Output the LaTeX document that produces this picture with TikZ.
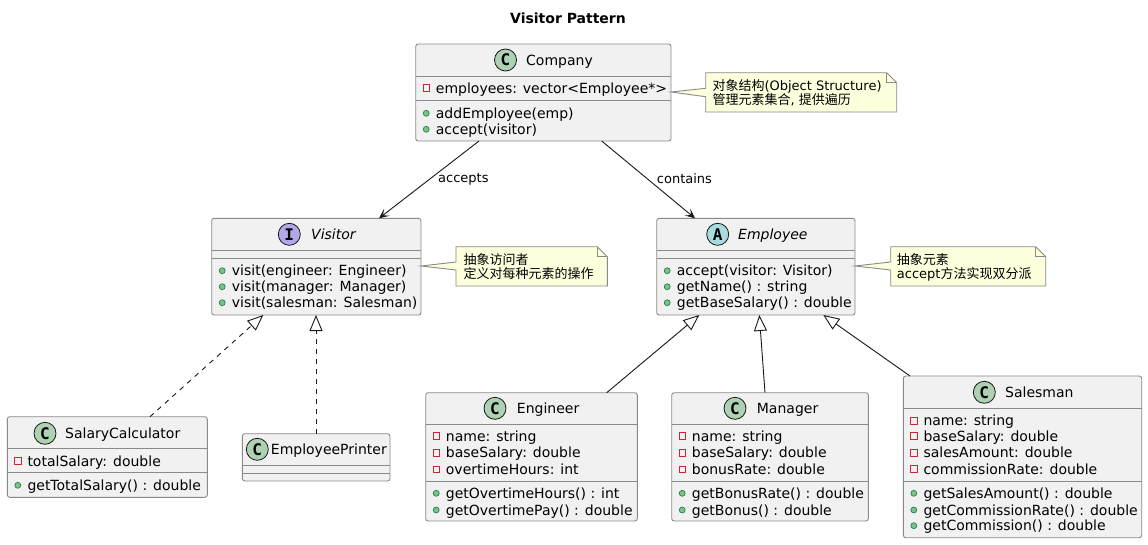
\documentclass[tikz,border=0pt]{standalone}
\usepackage{fontspec}
\setmainfont{DejaVu Sans}
\newfontfamily\cjk{Noto Sans CJK SC}
\newfontfamily\spotfont{DejaVu Sans Mono}
\usetikzlibrary{arrows.meta}
\definecolor{border}{HTML}{181818}
\definecolor{boxborder}{HTML}{8A8A8A}
\definecolor{classfill}{HTML}{F1F1F1}
\definecolor{notefill}{HTML}{FEFFDD}
\definecolor{spotC}{HTML}{ADD1B2}
\definecolor{spotI}{HTML}{B4A7E5}
\definecolor{spotA}{HTML}{A9DCDF}
\definecolor{pubfill}{HTML}{84BE84}
\definecolor{pubdraw}{HTML}{038048}
\definecolor{privdraw}{HTML}{C82930}
\newcommand{\classsep}[2]{\draw[boxline] ([yshift=-#2pt]#1.north west) -- ([yshift=-#2pt]#1.north east);}
\newcommand{\pubrow}[4]{%
  \fill[pubfill, draw=pubdraw, line width=0.6pt] (#2+10.5,#3) circle (3pt);
  \node[member] (#1) at (#2+20,#3+5) {#4};}
\newcommand{\privrow}[4]{%
  \draw[privdraw, line width=0.7pt] (#2+7.3,#3-3.2) rectangle (#2+13.7,#3+3.2);
  \node[member] (#1) at (#2+20,#3+5) {#4};}
\newcommand{\umlnote}[8]{%
  \draw[notestyle] (#1,#2) -- (#3-10,#2) -- (#3,#2+10) -- (#3,#4) -- (#1,#4) -- (#1,#8) -- (#5,#6) -- (#1,#7) -- cycle;
  \draw[notestyle, fill=none] (#3-10,#2) -- (#3-10,#2+10) -- (#3,#2+10);}
\tikzset{
  classbox/.style={draw=boxborder, fill=classfill, line width=0.9pt, rounded corners=2.5pt,
    anchor=north west, inner sep=0pt, outer sep=0pt},
  boxline/.style={draw=boxborder, line width=0.9pt},
  member/.style={anchor=base west, inner sep=0pt, font=\fontsize{14}{16}\selectfont},
  cname/.style={anchor=base west, inner sep=0pt, font=\fontsize{14}{16}\selectfont},
  spot/.style={circle, minimum size=22pt, inner sep=0pt, draw=border, line width=0.8pt,
    font=\spotfont\bfseries\fontsize{16}{16}\selectfont},
  notestyle/.style={draw=boxborder, fill=notefill, line width=0.9pt, line join=miter},
  notetext/.style={anchor=base west, inner sep=0pt, font=\fontsize{13}{15}\selectfont},
  elabel/.style={anchor=west, inner sep=0pt, font=\fontsize{13}{15}\selectfont},
  assoc/.style={draw=border, line width=0.9pt, -{Stealth[length=10pt,width=9pt,inset=5pt]}},
  inherit/.style={draw=border, line width=0.9pt, -{Triangle[open,length=16pt,width=13pt,fill=white]}},
  realize/.style={inherit, dash pattern=on 5pt off 5pt}
}
\begin{document}
\begin{tikzpicture}[x=1pt,y=-1pt]
\useasboundingbox (0,0) rectangle (1148,544);
\fill[white] (0,0) rectangle (1148,544);
\node[font=\bfseries\fontsize{14}{16}\selectfont, inner sep=0pt] (title) at (568,18) {Visitor Pattern};

% Company
\node[classbox, minimum width=255.3pt, minimum height=97pt] (company) at (415.7,44) {};
\classsep{company}{32}\classsep{company}{56}
\node[spot, fill=spotC] (companyspot) at (505.5,60) {C};
\node[cname] (companyname) at (526,65) {Company};
\privrow{ca1}{415.7}{88}{employees: vector<Employee*>}
\pubrow{cm1}{415.7}{113.3}{addEmployee(emp)}
\pubrow{cm2}{415.7}{129.3}{accept(visitor)}

% Visitor
\node[classbox, minimum width=209.3pt, minimum height=96.7pt] (visitor) at (211.7,218.3) {};
\classsep{visitor}{32.4}\classsep{visitor}{40}
\node[spot, fill=spotI] (visitorspot) at (289.3,234.3) {I};
\node[cname, font=\itshape\fontsize{14}{16}\selectfont] (visitorname) at (311,239.5) {Visitor};
\pubrow{vm1}{211.7}{270.7}{visit(engineer: Engineer)}
\pubrow{vm2}{211.7}{286.7}{visit(manager: Manager)}
\pubrow{vm3}{211.7}{302.7}{visit(salesman: Salesman)}

% Employee
\node[classbox, minimum width=198.3pt, minimum height=96.7pt] (employee) at (656.7,218.3) {};
\classsep{employee}{32.4}\classsep{employee}{40}
\node[spot, fill=spotA] (employeespot) at (717.7,234.3) {A};
\node[cname, font=\itshape\fontsize{14}{16}\selectfont] (employeename) at (738,239.5) {Employee};
\pubrow{em1}{656.7}{270.7}{accept(visitor: Visitor)}
\pubrow{em2}{656.7}{286.7}{getName() : string}
\pubrow{em3}{656.7}{302.7}{getBaseSalary() : double}

% SalaryCalculator
\node[classbox, minimum width=200pt, minimum height=80.6pt] (salcalc) at (7.3,416.7) {};
\classsep{salcalc}{31.6}\classsep{salcalc}{56}
\node[spot, fill=spotC] (salcalcspot) at (45,433.3) {C};
\node[cname] (salcalcname) at (65,438.3) {SalaryCalculator};
\privrow{sa1}{7.3}{461}{totalSalary: double}
\pubrow{sm1}{7.3}{485.3}{getTotalSalary() : double}

% EmployeePrinter
\node[classbox, minimum width=147.7pt, minimum height=47.3pt] (printer) at (242.3,433.7) {};
\classsep{printer}{31.3}\classsep{printer}{39.3}
\node[spot, fill=spotC] (printerspot) at (257.3,449.3) {C};
\node[cname] (printername) at (270.7,454.3) {EmployeePrinter};

% Engineer
\node[classbox, minimum width=211.6pt, minimum height=128.3pt] (engineer) at (425.7,392.7) {};
\classsep{engineer}{31.3}\classsep{engineer}{88.3}
\node[spot, fill=spotC] (engineerspot) at (495,408.3) {C};
\node[cname] (engineername) at (516.7,413.3) {Engineer};
\privrow{ga1}{425.7}{436}{name: string}
\privrow{ga2}{425.7}{452.7}{baseSalary: double}
\privrow{ga3}{425.7}{469.3}{overtimeHours: int}
\pubrow{gm1}{425.7}{493.3}{getOvertimeHours() : int}
\pubrow{gm2}{425.7}{510}{getOvertimePay() : double}

% Manager
\node[classbox, minimum width=196.6pt, minimum height=128.3pt] (manager) at (671.7,392.7) {};
\classsep{manager}{31.3}\classsep{manager}{88.3}
\node[spot, fill=spotC] (managerspot) at (735,408.3) {C};
\node[cname] (managername) at (756.7,413.3) {Manager};
\privrow{ma1}{671.7}{436}{name: string}
\privrow{ma2}{671.7}{452.7}{baseSalary: double}
\privrow{ma3}{671.7}{469.3}{bonusRate: double}
\pubrow{mm1}{671.7}{493.3}{getBonusRate() : double}
\pubrow{mm2}{671.7}{510}{getBonus() : double}

% Salesman
\node[classbox, minimum width=238.4pt, minimum height=161.7pt] (salesman) at (903.3,376) {};
\classsep{salesman}{32.3}\classsep{salesman}{105.7}
\node[spot, fill=spotC] (salesmanspot) at (984.3,392.3) {C};
\node[cname] (salesmanname) at (1005,397.3) {Salesman};
\privrow{xa1}{903.3}{420.7}{name: string}
\privrow{xa2}{903.3}{436}{baseSalary: double}
\privrow{xa3}{903.3}{452.7}{salesAmount: double}
\privrow{xa4}{903.3}{469}{commissionRate: double}
\pubrow{xm1}{903.3}{493.3}{getSalesAmount() : double}
\pubrow{xm2}{903.3}{510}{getCommissionRate() : double}
\pubrow{xm3}{903.3}{525.7}{getCommission() : double}

% Notes
\umlnote{705.7}{72.7}{896.7}{112}{671}{92}{88.3}{96.7}
\node[notetext] (n1a) at (712.3,90.7) {{\cjk 对象结构}(Object Structure)};
\node[notetext] (n1b) at (712.3,104.7) {{\cjk 管理元素集合}, {\cjk 提供遍历}};
\umlnote{456}{246.7}{607.3}{286}{421}{266}{262}{270}
\node[notetext] (n2a) at (463.3,264.7) {{\cjk 抽象访问者}};
\node[notetext] (n2b) at (463.3,278) {{\cjk 定义对每种元素的操作}};
\umlnote{890.7}{246.7}{1045.7}{286}{855}{266}{262}{270}
\node[notetext] (n3a) at (896.7,264.7) {{\cjk 抽象元素}};
\node[notetext] (n3b) at (896.7,278) {accept{\cjk 方法实现双分派}};

% Connectors
\draw[assoc] ([xshift=63.3pt]company.south west) -- ([xshift=167.3pt]visitor.north west);
\node[elabel] (lab1) at (438,179) {accepts};
\draw[assoc] ([xshift=186pt]company.south west) -- ([xshift=38.3pt]employee.north west);
\node[elabel] (lab2) at (656.7,179) {contains};
\draw[realize] ([xshift=142.7pt]salcalc.north west) -- ([xshift=51.6pt]visitor.south west);
\draw[realize] ([xshift=73.7pt]printer.north west) -- ([xshift=104.3pt]visitor.south west);
\draw[inherit] ([xshift=181pt]engineer.north west) -- ([xshift=42.6pt]employee.south west);
\draw[inherit] ([xshift=93.3pt]manager.north west) -- ([xshift=102.6pt]employee.south west);
\draw[inherit] ([xshift=6.7pt]salesman.north west) -- ([xshift=166.6pt]employee.south west);
\end{tikzpicture}
\end{document}
